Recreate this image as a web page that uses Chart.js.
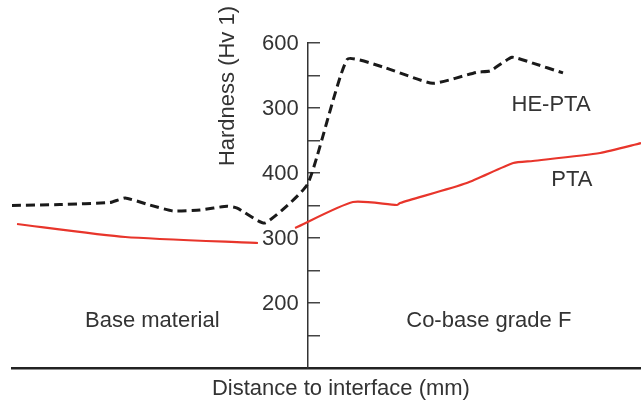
<!DOCTYPE html>
<html>
<head>
<meta charset="utf-8">
<script src="https://cdn.jsdelivr.net/npm/chart.js@4"></script>
<style>
  html, body { margin: 0; padding: 0; background: #fff; }
</style>
</head>
<body>
<canvas id="chart" width="641" height="402"></canvas>
<script>
// hardness profile across the interface (x: distance, 0 = interface)
const heX = [-4.7, -3.94, -3.14, -2.9, -2.51, -2.14, -1.71, -1.28, -1.12, -0.68, 0.0, 0.63, 1.2, 1.99, 2.69, 2.9, 3.25, 3.58, 4.06];
const heY = [350, 351.5, 354.6, 361.5, 350.8, 341.5, 343, 349, 346, 323, 383, 575, 563, 538, 555, 557, 578, 569, 554];

const ptaBaseX = [-4.62, -2.9, -0.79];
const ptaBaseY = [321.5, 301.5, 292.3];
const ptaCoatX = [-0.2, 0.72, 1.42, 1.47, 2.53, 3.27, 3.58, 4.65, 5.3];
const ptaCoatY = [315.4, 355.4, 350.8, 353.8, 384.6, 415.4, 418.5, 430.8, 446];

// tick labels as printed on the figure
const yTickValues = [200, 300, 400, 500, 600];
const yTickLabels = ["200", "300", "400", "300", "600"];

const seriesNames = ["HE-PTA", "PTA"];
const regionNames = ["Base material", "Co-base grade F"];

const toPoints = (xs, ys) => xs.map((x, i) => ({ x: x, y: ys[i] }));

const textColor = "#333";
const fontFamily = "'Liberation Sans', Arial, sans-serif";

// free text on the plot (tick labels, series names, regions, axis titles)
const textPlugin = {
  id: "plotText",
  afterDraw(chart) {
    const { ctx, scales } = chart;
    const xs = scales.x;
    const ys = scales.y;
    const axisX = xs.getPixelForValue(0);
    ctx.save();
    ctx.fillStyle = textColor;
    ctx.font = "22px " + fontFamily;
    ctx.textBaseline = "middle";

    // y tick labels sit left of the axis line
    ctx.textAlign = "right";
    yTickValues.forEach((v, i) => {
      ctx.fillText(yTickLabels[i], axisX - 9, ys.getPixelForValue(v) + 1);
    });

    ctx.textAlign = "center";
    ctx.fillText(seriesNames[0], xs.getPixelForValue(3.87), ys.getPixelForValue(505));
    ctx.fillText(seriesNames[1], xs.getPixelForValue(4.2), ys.getPixelForValue(389));
    ctx.fillText(regionNames[0], xs.getPixelForValue(-2.47), ys.getPixelForValue(172));
    ctx.fillText(regionNames[1], xs.getPixelForValue(2.88), ys.getPixelForValue(172));

    // x title under the axis line
    ctx.fillText("Distance to interface (mm)", xs.getPixelForValue(0.53), xs.top + 21);

    // y title, reading bottom to top
    ctx.translate(axisX - 80, ys.getPixelForValue(533.8));
    ctx.rotate(-Math.PI / 2);
    ctx.fillText("Hardness (Hv 1)", 0, 0);
    ctx.restore();
  },
};

const context = document.getElementById("chart").getContext("2d");

new Chart(context, {
  type: "line",
  data: {
    datasets: [
      {
        label: seriesNames[0],
        data: toPoints(heX, heY),
        borderColor: "#1a1a1a",
        borderWidth: 3,
        borderDash: [9, 5],
        pointRadius: 0,
        tension: 0.15,
      },
      {
        label: seriesNames[1],
        data: toPoints(ptaBaseX, ptaBaseY),
        borderColor: "#e8352b",
        borderWidth: 2.2,
        pointRadius: 0,
        tension: 0.2,
      },
      {
        label: seriesNames[1],
        data: toPoints(ptaCoatX, ptaCoatY),
        borderColor: "#e8352b",
        borderWidth: 2.2,
        pointRadius: 0,
        tension: 0.2,
      },
    ],
  },
  options: {
    responsive: false,
    animation: false,
    layout: {
      padding: { top: 43, left: 12, right: 0, bottom: 34 },
    },
    plugins: {
      legend: { display: false },
      tooltip: { enabled: false },
    },
    scales: {
      x: {
        type: "linear",
        min: -4.7,
        max: 5.3,
        ticks: { display: false },
        grid: { display: false, drawTicks: false },
        border: { display: true, color: "#222", width: 2.5 },
        title: { display: false },
      },
      y: {
        type: "linear",
        position: { x: 0 },
        min: 100,
        max: 600,
        ticks: { display: false, stepSize: 50, autoSkip: false },
        grid: {
          drawOnChartArea: false,
          drawTicks: true,
          tickLength: -13,
          color: "#444",
          lineWidth: 1.5,
        },
        border: { display: true, color: "#333", width: 1.5 },
      },
    },
  },
  plugins: [textPlugin],
});
</script>
</body>
</html>
